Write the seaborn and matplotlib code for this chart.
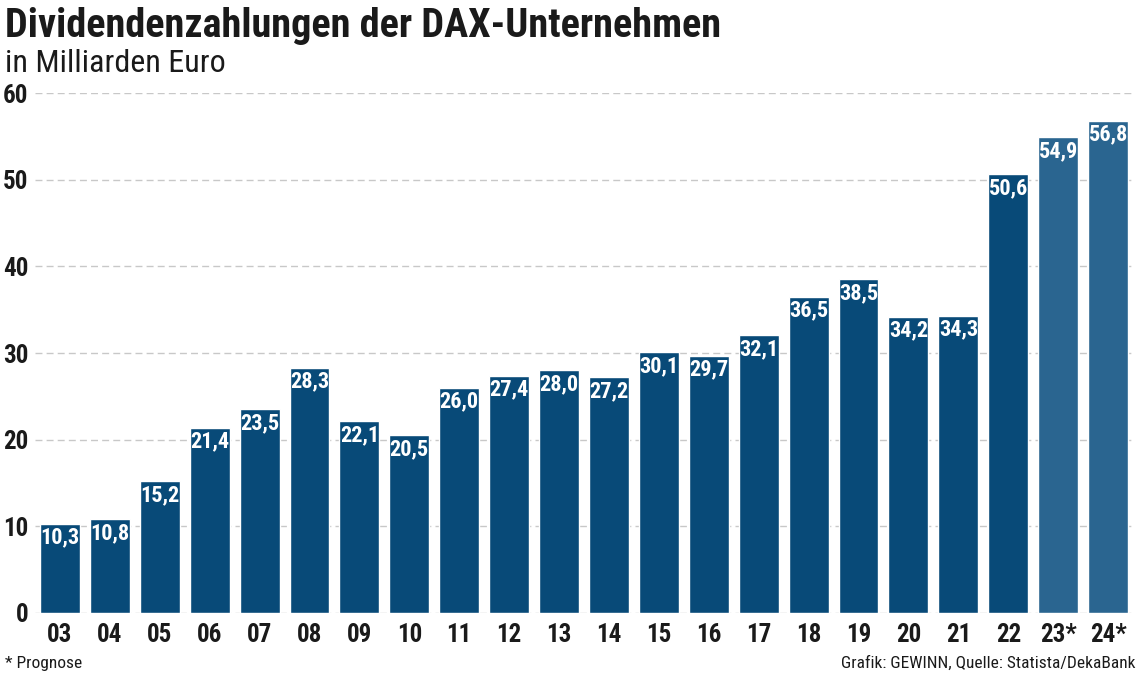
import matplotlib
matplotlib.use("Agg")
import matplotlib.pyplot as plt
import seaborn as sns
import pandas as pd

# data
years  = ["03", "04", "05", "06", "07", "08", "09", "10", "11", "12", "13",
          "14", "15", "16", "17", "18", "19", "20", "21", "22", "23*", "24*"]
values = [10.3, 10.8, 15.2, 21.4, 23.5, 28.3, 22.1, 20.5, 26.0, 27.4, 28.0,
          27.2, 30.1, 29.7, 32.1, 36.5, 38.5, 34.2, 34.3, 50.6, 54.9, 56.8]
forecast = [False] * 20 + [True, True]
y_ticks = [0, 10, 20, 30, 40, 50, 60]

BLUE      = "#084a78"
BLUE_FC   = "#2a6590"
GRID_COL  = "#c8c8c8"
TEXT_COL  = "#1a1a1a"

df = pd.DataFrame({"year": years, "value": values, "forecast": forecast})

sns.set_theme(style="white")
plt.rcParams["font.family"] = ["Roboto Condensed", "DejaVu Sans"]

fig = plt.figure(figsize=(11.4, 6.78), dpi=100)
ax = fig.add_axes([0.0307, 0.0959, 0.9632, 0.7669])

colors = [BLUE_FC if f else BLUE for f in df["forecast"]]
sns.barplot(data=df, x="year", y="value", hue="year", palette=colors,
            legend=False, width=0.8, saturation=1, ax=ax, zorder=3)

# value labels inside the bar tops
for i, v in enumerate(values):
    ax.text(i, v - 0.35, f"{v:.1f}".replace(".", ","), ha="center", va="top",
            color="white", fontsize=16, fontweight="bold", zorder=4)

ax.set_ylim(0, 60)
ax.set_xlim(-0.5, len(years) - 0.5)
ax.set_yticks(y_ticks)
ax.yaxis.grid(True, color=GRID_COL, linestyle=(0, (5, 3)), linewidth=1)
ax.xaxis.grid(False)
for s in ax.spines.values():
    s.set_visible(False)
ax.set_xlabel("")
ax.set_ylabel("")
ax.tick_params(axis="both", length=0, labelsize=18, colors=TEXT_COL)
ax.tick_params(axis="y", pad=5)
ax.tick_params(axis="x", pad=7)
for lbl in ax.get_xticklabels() + ax.get_yticklabels():
    lbl.set_fontweight("bold")

fig.text(0.004, 0.99, "Dividendenzahlungen der DAX-Unternehmen", ha="left", va="top",
         fontsize=29, fontweight="bold", color=TEXT_COL)
fig.text(0.004, 0.928, "in Milliarden Euro", ha="left", va="top",
         fontsize=23, color=TEXT_COL)
fig.text(0.004, 0.022, "* Prognose", ha="left", va="center", fontsize=12.5, color=TEXT_COL)
fig.text(0.996, 0.022, "Grafik: GEWINN, Quelle: Statista/DekaBank", ha="right",
         va="center", fontsize=12.5, color=TEXT_COL)

fig.savefig("out.png", dpi=100, facecolor="white")
